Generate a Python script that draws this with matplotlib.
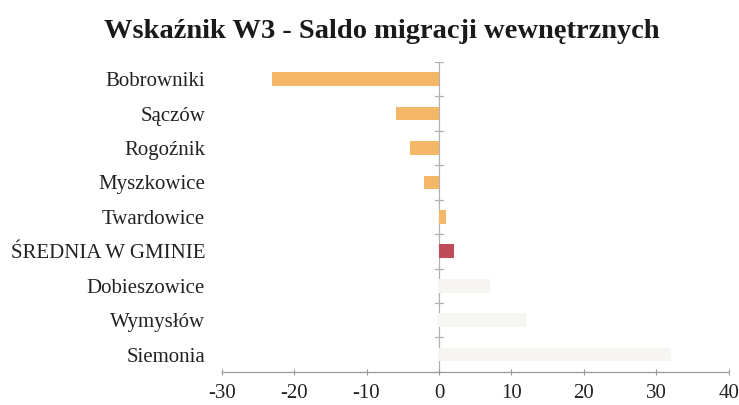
import matplotlib
matplotlib.use("Agg")
import matplotlib.pyplot as plt
import numpy as np

categories = ["Bobrowniki", "Sączów", "Rogoźnik", "Myszkowice", "Twardowice",
              "ŚREDNIA W GMINIE", "Dobieszowice", "Wymysłów", "Siemonia"]
values = [-23, -6, -4, -2, 1, 2.1, 7, 12, 32]
xticks = [-30, -20, -10, 0, 10, 20, 30, 40]

orange = "#F4B768"
red = "#BF4A58"
faint = "#F6F5F1"
colors = []
for c, v in zip(categories, values):
    if c == "ŚREDNIA W GMINIE":
        colors.append(red)
    elif v > 5:
        colors.append(faint)
    else:
        colors.append(orange)

plt.rcParams['font.family'] = ['Liberation Serif', 'DejaVu Serif']

fig = plt.figure(figsize=(7.39, 4.05), dpi=100)
ax = fig.add_axes([0.300, 0.082, 0.686, 0.765])

y = np.arange(len(categories))
ax.barh(y, values, height=0.4, color=colors, zorder=2)
ax.set_ylim(len(categories) - 0.5, -0.5)
ax.set_xlim(-30, 40)
ax.set_xticks(xticks)
ax.set_xticklabels([str(t) for t in xticks], fontsize=15)
ax.set_yticks(y)
ax.set_yticklabels(categories, fontsize=15)

for s in ["top", "right", "left"]:
    ax.spines[s].set_visible(False)
ax.spines["bottom"].set_color("#9a9a9a")
ax.spines["bottom"].set_linestyle((0, (1, 1)))
ax.spines["bottom"].set_linewidth(0.9)

ax.tick_params(axis="x", direction="inout", length=5, color="#9a9a9a", pad=6, labelcolor="#222222")
ax.tick_params(axis="y", length=0, pad=12, labelcolor="#222222")

# vertical zero axis with ticks at category boundaries
ax.axvline(0, color="#b0b0b0", lw=0.9, zorder=1)
for b in np.arange(-0.5, len(categories), 1.0):
    ax.plot([-0.5, 0.5], [b, b], color="#b0b0b0", lw=0.9, zorder=1)

fig.suptitle("Wskaźnik W3 - Saldo migracji wewnętrznych", x=0.516, y=0.952,
             fontsize=20.5, fontweight="bold", color="#1a1a1a")

fig.savefig("out.png", dpi=100)
